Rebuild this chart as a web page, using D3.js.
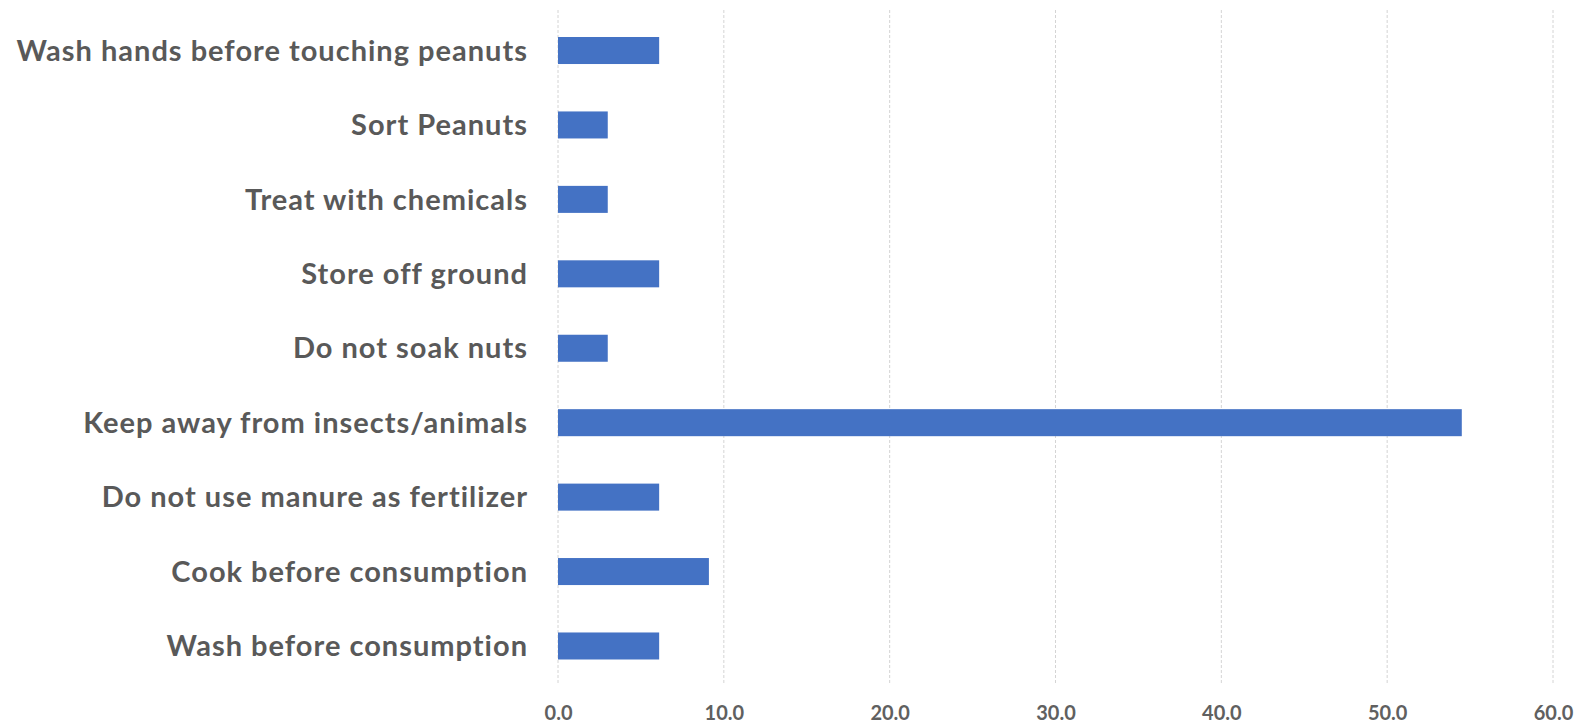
<!DOCTYPE html>
<html>
<head>
<meta charset="utf-8">
<script src="https://cdn.jsdelivr.net/npm/d3@7/dist/d3.min.js"></script>
<style>
  html, body { margin: 0; padding: 0; background: #fff; }
  svg { display: block; }
</style>
</head>
<body>
<svg id="chart" width="1583" height="724"></svg>
<script>
const categories = [
  "Wash hands before touching peanuts",
  "Sort Peanuts",
  "Treat with chemicals",
  "Store off ground",
  "Do not soak nuts",
  "Keep away from insects/animals",
  "Do not use manure as fertilizer",
  "Cook before consumption",
  "Wash before consumption"
];
const values = [6.1, 3.0, 3.0, 6.1, 3.0, 54.5, 6.1, 9.1, 6.1];
const xTicks = [0, 10, 20, 30, 40, 50, 60];

const svg = d3.select("#chart");
const x0 = 558, x1 = 1553;
const yTop = 13.3, yBot = 683.2;

const x = d3.scaleLinear().domain([0, 60]).range([x0, x1]);
const y = d3.scaleBand().domain(categories).range([yTop, yBot])
  .paddingInner(0.637).paddingOuter(0.3185);

// gridlines
svg.append("g").selectAll("line").data(xTicks).join("line")
  .attr("x1", d => x(d)).attr("x2", d => x(d))
  .attr("y1", 10).attr("y2", 683)
  .attr("stroke", "#d4d4d4").attr("stroke-width", 1)
  .attr("stroke-dasharray", "3,2");

// bars
svg.append("g").selectAll("rect").data(values).join("rect")
  .attr("x", x(0))
  .attr("y", (d, i) => y(categories[i]))
  .attr("width", d => x(d) - x(0))
  .attr("height", y.bandwidth())
  .attr("fill", "#4472C4");

// x axis tick labels
const xAxis = d3.axisBottom(x).tickValues(xTicks).tickFormat(d3.format(".1f")).tickSize(0).tickPadding(0);
const gx = svg.append("g").attr("transform", "translate(0,706)").call(xAxis);
gx.select(".domain").remove();
gx.selectAll("text")
  .attr("fill", "#606060")
  .attr("font-family", "Lato, 'Open Sans', sans-serif")
  .attr("font-weight", "bold")
  .attr("font-size", 20)
  .attr("dy", "0.71em");

// category labels
const yAxis = d3.axisLeft(y).tickSize(0).tickPadding(0);
const gy = svg.append("g").attr("transform", "translate(528,0)").call(yAxis);
gy.select(".domain").remove();
gy.selectAll("text")
  .attr("fill", "#595959")
  .attr("font-family", "Lato, 'Open Sans', sans-serif")
  .attr("font-weight", "bold")
  .attr("font-size", 29)
  .attr("letter-spacing", "1px")
  .attr("dy", "0.35em");
</script>
</body>
</html>
